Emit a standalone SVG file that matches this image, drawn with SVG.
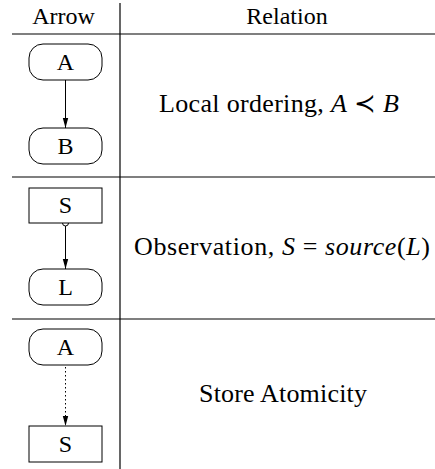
<svg xmlns="http://www.w3.org/2000/svg" width="435" height="469" viewBox="0 0 435 469">
  <style>
    .rule { stroke: #000; stroke-width: 1.2; fill: none; }
    .node { fill: #fff; stroke: #000; stroke-width: 1; }
    .edge { stroke: #000; stroke-width: 1; fill: none; }
    .dotted { stroke-dasharray: 1.5 2.5; }
    .label { text-anchor: middle; fill: #000; }
    .body { font-size: 26px; fill: #000; }
    .it { font-style: italic; }
  </style>
  <defs>
    <marker id="arrowhead" markerUnits="userSpaceOnUse" markerWidth="10" markerHeight="10" viewBox="0 0 10 10" refX="10" refY="5" orient="auto">
      <path d="M0,2.3 L10,5 L0,7.7 Z" fill="#000"/>
    </marker>
  </defs>

  <g font-family="'Liberation Serif', 'Times New Roman', 'DejaVu Serif', serif" font-size="24">
    <!-- table rules and header -->
    <g id="table">
      <line class="rule" x1="12" y1="34" x2="435" y2="34"/>
      <line class="rule" x1="12" y1="177" x2="435" y2="177"/>
      <line class="rule" x1="12" y1="319" x2="435" y2="319"/>
      <line class="rule" x1="120" y1="3" x2="120" y2="469"/>
      <text class="label" x="63.5" y="24">Arrow</text>
      <text class="label" x="287" y="24">Relation</text>
    </g>

    <!-- connectors -->
    <g id="connectors">
      <line class="edge" x1="65.5" y1="80" x2="65.5" y2="128" marker-end="url(#arrowhead)"/>
      <line class="edge" x1="65.5" y1="226" x2="65.5" y2="269" marker-end="url(#arrowhead)"/>
      <circle class="node" cx="65.5" cy="223" r="3"/>
      <line class="edge dotted" x1="65.5" y1="367" x2="65.5" y2="426" marker-end="url(#arrowhead)"/>
    </g>

    <!-- row 1: local ordering -->
    <g id="node-a1">
      <rect class="node" x="29" y="44" width="73" height="36" rx="14" ry="14"/>
      <text class="label" x="65.5" y="70">A</text>
    </g>
    <g id="node-b1">
      <rect class="node" x="29" y="128" width="73" height="36" rx="14" ry="14"/>
      <text class="label" x="65.5" y="154">B</text>
    </g>
    <text class="body" x="159" y="112" textLength="240" lengthAdjust="spacing">Local ordering, <tspan class="it">A</tspan> ≺ <tspan class="it">B</tspan></text>

    <!-- row 2: observation -->
    <g id="node-s2">
      <rect class="node" x="29" y="188" width="73" height="35"/>
      <text class="label" x="65.5" y="213">S</text>
    </g>
    <g id="node-l2">
      <rect class="node" x="29" y="269" width="73" height="36" rx="14" ry="14"/>
      <text class="label" x="65.5" y="295">L</text>
    </g>
    <text class="body" x="134" y="255" textLength="296" lengthAdjust="spacing">Observation, <tspan class="it">S</tspan> = <tspan class="it">source</tspan>(<tspan class="it">L</tspan>)</text>

    <!-- row 3: store atomicity -->
    <g id="node-a3">
      <rect class="node" x="29" y="329" width="73" height="36" rx="14" ry="14"/>
      <text class="label" x="65.5" y="355">A</text>
    </g>
    <g id="node-s3">
      <rect class="node" x="29" y="426" width="73" height="36"/>
      <text class="label" x="65.5" y="452">S</text>
    </g>
    <text class="body" x="199" y="402" textLength="168" lengthAdjust="spacing">Store Atomicity</text>
  </g>
</svg>
